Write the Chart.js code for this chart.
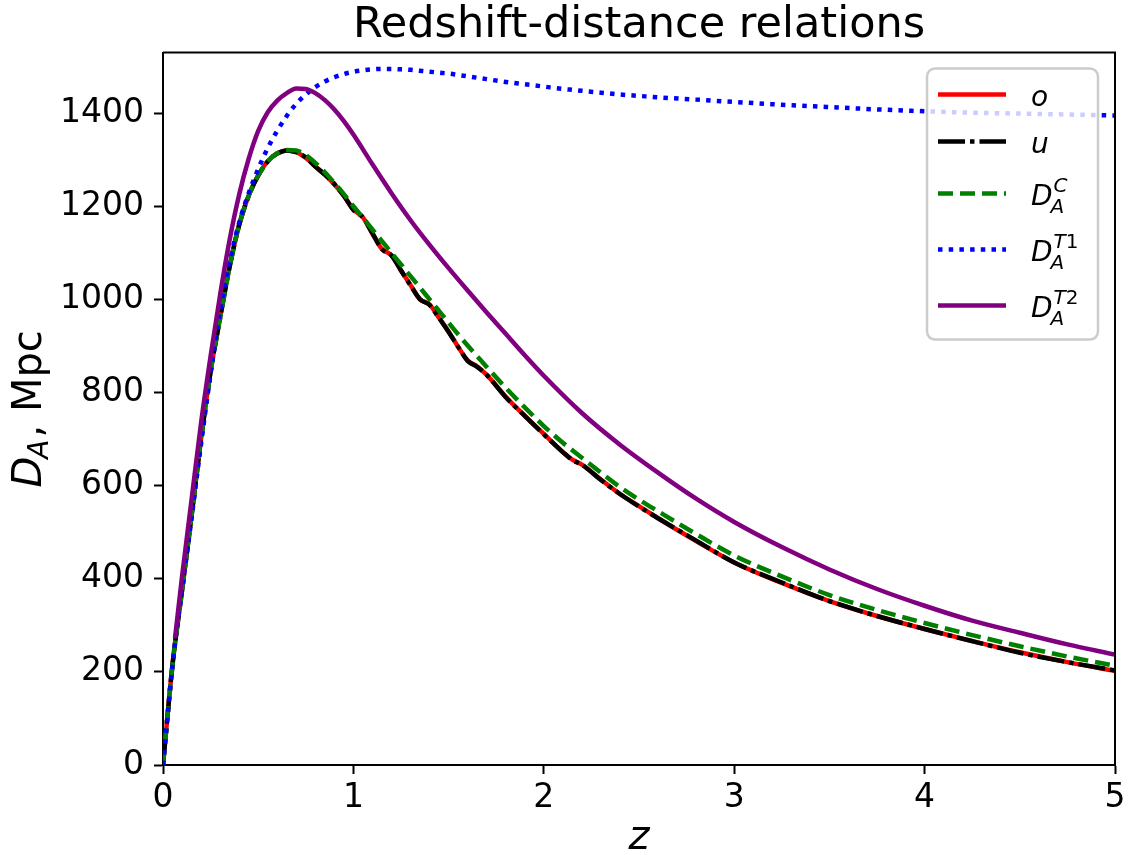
<!DOCTYPE html>
<html>
<head>
<meta charset="utf-8">
<script src="https://cdn.jsdelivr.net/npm/chart.js@4"></script>
<style>
  html, body { margin: 0; padding: 0; background: #fff; }
  #distChart { display: block; }
</style>
</head>
<body>
<canvas id="distChart" width="1131" height="855"></canvas>
<script>
const zValues = [0, 0.05, 0.1, 0.15, 0.2, 0.25, 0.3, 0.35, 0.4, 0.45,
  0.5, 0.55, 0.6, 0.65, 0.7, 0.75, 0.8, 0.85, 0.9, 0.95,
  1.0, 1.05, 1.1, 1.15, 1.2, 1.25, 1.3, 1.35, 1.4, 1.45,
  1.5, 1.55, 1.6, 1.65, 1.7, 1.8, 1.9, 2.0, 2.1, 2.15,
  2.2, 2.3, 2.4, 2.5, 2.6, 2.8, 3.0, 3.25, 3.5, 3.75,
  4.0, 4.25, 4.5, 4.75, 5.0];

const oValues = [0, 217, 378, 537, 702, 846, 962, 1071, 1160, 1223,
  1266, 1297, 1314, 1320, 1316, 1304, 1286, 1268, 1247, 1223,
  1193, 1176, 1141, 1108, 1095, 1062, 1031, 1000, 989, 960,
  931, 898, 869, 856, 838, 791, 750, 711, 672, 656,
  645, 613, 582, 556, 530, 481, 435, 391, 352, 320,
  292, 266, 242, 221, 202];

const uValues = [0, 215, 375, 535, 700, 845, 960, 1070, 1160, 1222,
  1266, 1296, 1313, 1320, 1316, 1305, 1285, 1268, 1248, 1222,
  1192, 1176, 1142, 1108, 1094, 1062, 1030, 1000, 988, 960,
  930, 898, 868, 855, 838, 790, 750, 710, 672, 655,
  645, 612, 582, 555, 530, 482, 435, 392, 352, 320,
  292, 266, 241, 221, 203];

const dcValues = [0, 215, 375, 535, 700, 845, 960, 1070, 1160, 1222,
  1266, 1296, 1314, 1321, 1320, 1310, 1293, 1273, 1250, 1226,
  1200, 1175, 1150, 1125, 1100, 1075, 1050, 1025, 1000, 975,
  950, 925, 901, 878, 855, 810, 768, 728, 692, 676,
  660, 628, 597, 570, 545, 496, 450, 405, 365, 333,
  305, 279, 255, 233, 213];

const dt1Values = [0, 215, 375, 530, 690, 840, 975, 1080, 1165, 1228,
  1280, 1325, 1362, 1394, 1420, 1440, 1456, 1468, 1477, 1484,
  1489, 1492, 1494, 1495, 1495, 1494, 1493, 1491, 1489, 1487,
  1485, 1482, 1479, 1476, 1473, 1467, 1462, 1457, 1452, 1450,
  1448, 1444, 1440, 1437, 1434, 1429, 1424, 1418, 1413, 1408,
  1404, 1401, 1399, 1397, 1395];

const zT2Values = [0.063, 0.1, 0.15, 0.2, 0.25, 0.3, 0.35, 0.4, 0.45, 0.5,
  0.55, 0.6, 0.65, 0.7, 0.75, 0.8, 0.85, 0.9, 0.95, 1.0,
  1.1, 1.2, 1.3, 1.4, 1.5, 1.6, 1.7, 1.8, 1.9, 2.0,
  2.2, 2.4, 2.6, 2.8, 3.0, 3.25, 3.5, 3.75, 4.0, 4.25,
  4.5, 4.75, 5.0];

const dt2Values = [272, 405, 570, 735, 878, 1010, 1128, 1225, 1302, 1362,
  1402, 1427, 1443, 1453, 1452, 1443, 1428, 1408, 1383, 1354,
  1290, 1228, 1170, 1117, 1067, 1019, 972, 926, 880, 836,
  756, 688, 628, 572, 522, 468, 420, 378, 342, 310,
  284, 259, 237];

const xTicks = [0, 1, 2, 3, 4, 5];
const yTicks = [0, 200, 400, 600, 800, 1000, 1200, 1400];

// legend texts: base letter, subscript, superscript
const legendItems = [
  { base: 'o' },
  { base: 'u' },
  { base: 'D', sub: 'A', sup: 'C' },
  { base: 'D', sub: 'A', sup: 'T', supNum: '1' },
  { base: 'D', sub: 'A', sup: 'T', supNum: '2' },
];

function toPoints(xs, ys) {
  return xs.map((x, i) => ({ x: x, y: ys[i] }));
}

const FONT = 'DejaVu Sans';

// matplotlib-like frame, legend and y label drawn on canvas
const mplExtras = {
  id: 'mplExtras',
  afterDraw(chart) {
    const ctx = chart.ctx;
    const area = chart.chartArea;
    ctx.save();

    // top and right spines
    ctx.strokeStyle = '#000';
    ctx.lineWidth = 2;
    ctx.beginPath();
    ctx.moveTo(area.left, area.top);
    ctx.lineTo(area.right, area.top);
    ctx.lineTo(area.right, area.bottom);
    ctx.stroke();

    // legend box
    const bx = area.right - 188, by = area.top + 16, bw = 171, bh = 271;
    ctx.beginPath();
    ctx.roundRect(bx, by, bw, bh, 8);
    ctx.fillStyle = 'rgba(255,255,255,0.8)';
    ctx.fill();
    ctx.strokeStyle = '#cccccc';
    ctx.lineWidth = 2.5;
    ctx.stroke();

    const rowY = [by + 26, by + 73, by + 125, by + 181, by + 237];
    chart.data.datasets.forEach((ds, i) => {
      const y = rowY[i];
      ctx.save();
      ctx.strokeStyle = ds.borderColor;
      ctx.lineWidth = ds.borderWidth;
      ctx.setLineDash(ds.borderDash || []);
      ctx.lineCap = 'butt';
      ctx.beginPath();
      ctx.moveTo(bx + 11, y);
      ctx.lineTo(bx + 79, y);
      ctx.stroke();
      ctx.restore();

      const item = legendItems[i];
      let tx = bx + 104;
      const base = y + 11;
      ctx.fillStyle = '#000';
      ctx.textBaseline = 'alphabetic';
      ctx.textAlign = 'left';
      ctx.font = 'italic 28px ' + FONT;
      ctx.fillText(item.base, tx, base);
      tx += ctx.measureText(item.base).width;
      if (item.sub) {
        ctx.font = 'italic 20px ' + FONT;
        ctx.fillText(item.sub, tx - 2, base + 8);
        let sx = tx + 1;
        ctx.fillText(item.sup, sx, base - 13);
        sx += ctx.measureText(item.sup).width;
        if (item.supNum) {
          ctx.font = '20px ' + FONT;
          ctx.fillText(item.supNum, sx, base - 13);
        }
      }
    });

    // y axis label: D_A, Mpc
    ctx.translate(31, (area.top + area.bottom) / 2);
    ctx.rotate(-Math.PI / 2);
    ctx.fillStyle = '#000';
    ctx.textBaseline = 'middle';
    ctx.textAlign = 'left';
    const partD = 'D', partA = 'A', rest = ', Mpc';
    ctx.font = 'italic 40px ' + FONT;
    const wD = ctx.measureText(partD).width;
    ctx.font = 'italic 28px ' + FONT;
    const wA = ctx.measureText(partA).width;
    ctx.font = '40px ' + FONT;
    const wRest = ctx.measureText(rest).width;
    let lx = -(wD + wA + wRest) / 2;
    ctx.font = 'italic 40px ' + FONT;
    ctx.fillText(partD, lx, 0);
    lx += wD;
    ctx.font = 'italic 28px ' + FONT;
    ctx.fillText(partA, lx - 2, 10);
    lx += wA;
    ctx.font = '40px ' + FONT;
    ctx.fillText(rest, lx, 0);

    ctx.restore();
  }
};

document.addEventListener('DOMContentLoaded', function() {
  const ctx = document.getElementById('distChart').getContext('2d');

  const lineBase = {
    borderWidth: 4.5,
    pointRadius: 0,
    fill: false,
    cubicInterpolationMode: 'monotone',
  };

  new Chart(ctx, {
    type: 'line',
    data: {
      datasets: [
        Object.assign({}, lineBase, {
          label: 'o',
          data: toPoints(zValues, oValues),
          borderColor: '#ff0000',
          order: 4,
        }),
        Object.assign({}, lineBase, {
          label: 'u',
          data: toPoints(zValues, uValues),
          borderColor: '#000000',
          borderDash: [27, 5, 4.5, 5],
          order: 3,
        }),
        Object.assign({}, lineBase, {
          label: 'D_A^C',
          data: toPoints(zValues, dcValues),
          borderColor: '#008000',
          borderDash: [15, 7],
          order: 2,
        }),
        Object.assign({}, lineBase, {
          label: 'D_A^T1',
          data: toPoints(zValues, dt1Values),
          borderColor: '#0000ff',
          borderDash: [4.5, 6.2],
          order: 1,
        }),
        Object.assign({}, lineBase, {
          label: 'D_A^T2',
          data: toPoints(zT2Values, dt2Values),
          borderColor: '#800080',
          order: 0,
        }),
      ]
    },
    options: {
      responsive: false,
      animation: false,
      layout: {
        padding: { left: 0, right: 16, top: 0, bottom: 0 },
      },
      scales: {
        x: {
          type: 'linear',
          min: 0,
          max: 5,
          afterBuildTicks: function(scale) {
            scale.ticks = xTicks.map(v => ({ value: v }));
          },
          afterFit: function(scale) {
            scale.height = 90;
          },
          grid: {
            drawOnChartArea: false,
            drawTicks: true,
            tickLength: 9,
            tickWidth: 2,
            tickColor: '#000',
          },
          border: { display: true, color: '#000', width: 2 },
          ticks: {
            padding: 5,
            color: '#000',
            font: { family: FONT, size: 33 },
            callback: v => String(v),
          },
          title: {
            display: true,
            text: 'z',
            color: '#000',
            font: { family: FONT, size: 40, style: 'italic', lineHeight: 0.8 },
            padding: { top: 0, bottom: 0 },
          },
        },
        y: {
          type: 'linear',
          min: 0,
          max: 1530,
          afterBuildTicks: function(scale) {
            scale.ticks = yTicks.map(v => ({ value: v }));
          },
          afterFit: function(scale) {
            scale.width = 163;
          },
          grid: {
            drawOnChartArea: false,
            drawTicks: true,
            tickLength: 9,
            tickWidth: 2,
            tickColor: '#000',
          },
          border: { display: true, color: '#000', width: 2 },
          ticks: {
            padding: 10,
            color: '#000',
            font: { family: FONT, size: 33 },
            callback: v => String(v),
          },
        },
      },
      plugins: {
        legend: { display: false },
        tooltip: { enabled: false },
        title: {
          display: true,
          fullSize: false,
          text: 'Redshift-distance relations',
          color: '#000',
          font: { family: FONT, size: 43, weight: 'normal' },
          padding: { top: 0, bottom: 1 },
        },
      },
    },
    plugins: [mplExtras],
  });
});
</script>
</body>
</html>
